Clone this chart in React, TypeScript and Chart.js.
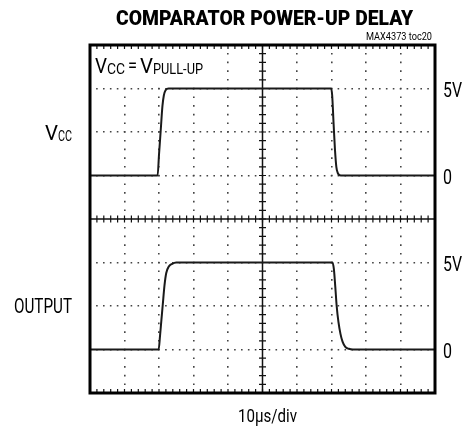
import React, { useEffect, useRef } from "react";
import { Chart, registerables } from "chart.js";
Chart.register(...registerables);

// ---- data (time in µs, voltage in V) ----
const vccTime = [0, 19.6, 20.0, 20.5, 21.0, 21.4, 21.9, 22.8, 50, 69.9, 70.2, 70.6, 71.0, 71.4, 71.8, 72.7, 100];
const vccVolts = [0, 0, 1.2, 2.6, 4.0, 4.6, 4.9, 5, 5, 5, 4.6, 3.0, 1.5, 0.5, 0.15, 0, 0];
const outTime = [0, 19.9, 20.3, 20.7, 21.1, 21.6, 22.1, 22.8, 23.8, 25.0, 50, 70.3, 70.7, 71.1, 71.5, 72.0, 72.6, 73.2, 74.0, 75.0, 76.2, 100];
const outVolts = [0, 0, 0.8, 1.7, 2.6, 3.7, 4.4, 4.75, 4.92, 5, 5, 5, 4.6, 3.6, 2.5, 1.6, 0.9, 0.45, 0.15, 0.04, 0, 0];

const levelValues = [5, 0];
const levelLabels = ["5V", "0"];
const traceNames = ["V", "OUTPUT"];

const TITLE = "COMPARATOR POWER-UP DELAY";
const NOTE = "MAX4373 toc20";
const XLABEL = "10µs/div";

// screen settings
const TIME_PER_DIV = 10;
const X_DIVS = 10;
const Y_DIVS = 8;
const VOLTS_PER_DIV = 2.5;
const VCC_ZERO_DIV = 5;
const OUT_ZERO_DIV = 1;

function fitText(ctx: CanvasRenderingContext2D, text: string, x: number, y: number, font: string, width: number, align: "left" | "center" | "right") {
  ctx.save();
  ctx.font = font;
  ctx.textAlign = "left";
  ctx.textBaseline = "alphabetic";
  const w = ctx.measureText(text).width;
  const sx = width / w;
  const x0 = align === "center" ? x - width / 2 : align === "right" ? x - width : x;
  ctx.translate(x0, y);
  ctx.scale(sx, 1);
  ctx.fillStyle = "#000";
  ctx.fillText(text, 0, 0);
  ctx.restore();
}

const scopePlugin = {
  id: "scope",
  beforeDatasetsDraw(chart: any) {
    const ctx: CanvasRenderingContext2D = chart.ctx;
    const xs = chart.scales.x;
    const ys = chart.scales.y;
    const { left, right, top, bottom } = chart.chartArea;
    const cx = xs.getPixelForValue((X_DIVS / 2) * TIME_PER_DIV);
    const cy = ys.getPixelForValue(Y_DIVS / 2);
    ctx.save();
    // clear area behind inner note
    ctx.fillStyle = "#fff";
    ctx.fillRect(left + 2, top + 6, 116, 30);
    ctx.strokeStyle = "#111";
    ctx.lineWidth = 1.5;
    ctx.beginPath();
    ctx.moveTo(cx, top);
    ctx.lineTo(cx, bottom);
    ctx.moveTo(left, cy);
    ctx.lineTo(right, cy);
    ctx.stroke();
    ctx.lineWidth = 1.2;
    ctx.beginPath();
    for (let k = 0; k <= X_DIVS * 5; k++) {
      const px = xs.getPixelForValue((k * TIME_PER_DIV) / 5);
      ctx.moveTo(px, cy - 3.5);
      ctx.lineTo(px, cy + 3.5);
      ctx.moveTo(px, top);
      ctx.lineTo(px, top + 4);
      ctx.moveTo(px, bottom);
      ctx.lineTo(px, bottom - 4);
    }
    for (let k = 0; k <= Y_DIVS * 5; k++) {
      const py = ys.getPixelForValue(k / 5);
      ctx.moveTo(cx - 3.5, py);
      ctx.lineTo(cx + 3.5, py);
    }
    ctx.stroke();
    ctx.restore();
  },
  afterDatasetsDraw(chart: any) {
    const ctx: CanvasRenderingContext2D = chart.ctx;
    const { left, right, top, bottom } = chart.chartArea;
    ctx.save();
    ctx.strokeStyle = "#000";
    ctx.lineWidth = 3;
    ctx.strokeRect(left, top, right - left, bottom - top);
    ctx.restore();
  },
  afterDraw(chart: any) {
    const ctx: CanvasRenderingContext2D = chart.ctx;
    const { left, right, top, bottom } = chart.chartArea;
    const yv = chart.scales.yVcc;
    const yo = chart.scales.yOut;
    const cxm = (left + right) / 2;
    // title
    fitText(ctx, TITLE, cxm + 2, 25, "900 21px Roboto", 297, "center");
    fitText(ctx, NOTE, right - 3, 40, "10px Roboto", 66, "right");
    // inner note: VCC = VPULL-UP
    const by = 73;
    fitText(ctx, "V", left + 5, by, "20px Roboto", 12, "left");
    fitText(ctx, "CC", left + 17, by + 1, "14px Roboto", 18, "left");
    fitText(ctx, "=", left + 38, by - 1, "20px Roboto", 9, "left");
    fitText(ctx, "V", left + 50, by, "20px Roboto", 13, "left");
    fitText(ctx, "PULL-UP", left + 63, by + 1, "14px Roboto", 50, "left");
    // right level labels
    for (let i = 0; i < levelValues.length; i++) {
      const w = levelLabels[i].length > 1 ? 19 : 9;
      fitText(ctx, levelLabels[i], right + 8, yv.getPixelForValue(levelValues[i]) + 8, "20px Roboto", w, "left");
      fitText(ctx, levelLabels[i], right + 8, yo.getPixelForValue(levelValues[i]) + 8, "20px Roboto", w, "left");
    }
    // left trace names
    const vMid = yv.getPixelForValue(2.5) + 8;
    fitText(ctx, traceNames[0], 45, vMid, "20px Roboto", 13, "left");
    fitText(ctx, "CC", 58, vMid + 1, "14px Roboto", 14, "left");
    fitText(ctx, traceNames[1], 14, yo.getPixelForValue(2.5) + 7, "20px Roboto", 58, "left");
    // x label
    fitText(ctx, XLABEL, cxm + 5, bottom + 29, "18px Roboto", 59, "center");
  },
};

export default function App() {
  const ref = useRef<HTMLCanvasElement | null>(null);
  useEffect(() => {
    if (!ref.current) return;
    const chart = new Chart(ref.current, {
      type: "line",
      data: {
        datasets: [
          {
            label: "VCC",
            data: vccTime.map((t, i) => ({ x: t, y: vccVolts[i] })),
            yAxisID: "yVcc",
            borderColor: "#1a1a1a",
            borderWidth: 2,
            pointRadius: 0,
            cubicInterpolationMode: "monotone",
            fill: false,
          },
          {
            label: "OUTPUT",
            data: outTime.map((t, i) => ({ x: t, y: outVolts[i] })),
            yAxisID: "yOut",
            borderColor: "#1a1a1a",
            borderWidth: 2,
            pointRadius: 0,
            cubicInterpolationMode: "monotone",
            fill: false,
          },
        ],
      },
      options: {
        animation: false,
        responsive: false,
        devicePixelRatio: 1,
        layout: { padding: { left: 90, top: 45, right: 36, bottom: 35 } },
        plugins: { legend: { display: false }, tooltip: { enabled: false }, title: { display: false } },
        scales: {
          x: {
            type: "linear",
            min: 0,
            max: X_DIVS * TIME_PER_DIV,
            ticks: { display: false, stepSize: TIME_PER_DIV },
            grid: {
              drawTicks: false,
              lineWidth: 1.6,
              color: (c: any) => {
                const v = c.tick && c.tick.value;
                return v === 0 || v === X_DIVS * TIME_PER_DIV || v === (X_DIVS / 2) * TIME_PER_DIV ? "rgba(0,0,0,0)" : "#444";
              },
            },
            border: { display: false, dash: [1.6, 7.1], dashOffset: 0.8 },
          },
          y: {
            type: "linear",
            min: 0,
            max: Y_DIVS,
            ticks: { display: false, stepSize: 1 },
            grid: {
              drawTicks: false,
              lineWidth: 1.6,
              color: (c: any) => {
                const v = c.tick && c.tick.value;
                return v === 0 || v === Y_DIVS || v === Y_DIVS / 2 ? "rgba(0,0,0,0)" : "#444";
              },
            },
            border: { display: false, dash: [1.6, 5.3], dashOffset: 0.8 },
          },
          yVcc: {
            type: "linear",
            display: false,
            min: -VCC_ZERO_DIV * VOLTS_PER_DIV,
            max: (Y_DIVS - VCC_ZERO_DIV) * VOLTS_PER_DIV,
          },
          yOut: {
            type: "linear",
            display: false,
            min: -OUT_ZERO_DIV * VOLTS_PER_DIV,
            max: (Y_DIVS - OUT_ZERO_DIV) * VOLTS_PER_DIV,
          },
        },
      },
      plugins: [scopePlugin],
    } as any);
    return () => chart.destroy();
  }, []);
  return (
    <div style={{ position: "fixed", left: 0, top: 0, width: 471, height: 428, background: "#fff" }}>
      <canvas ref={ref} width={471} height={428} />
    </div>
  );
}
